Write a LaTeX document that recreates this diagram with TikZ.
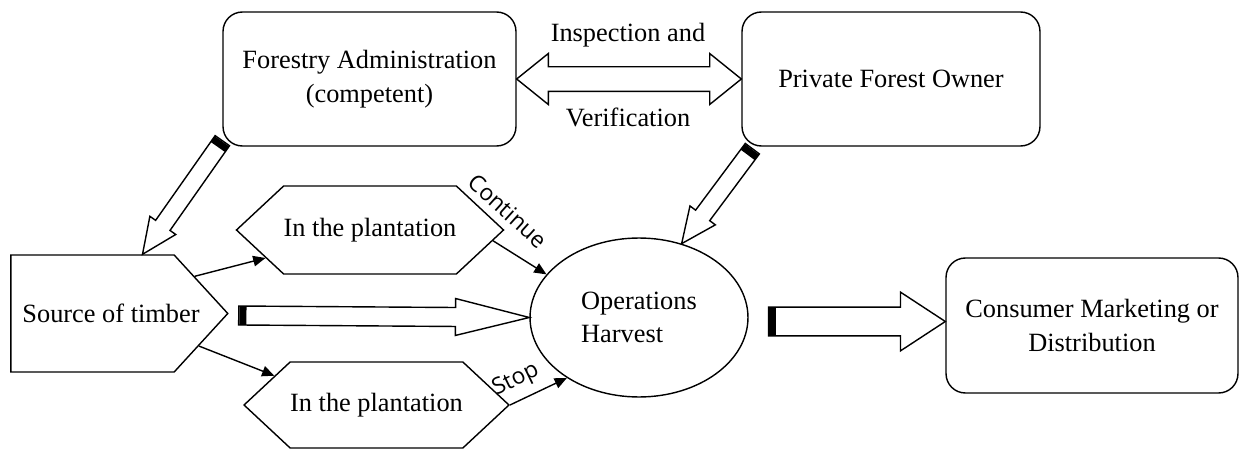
\documentclass[tikz,border=0pt]{standalone}
\usepackage{fontspec}
\setmainfont{Liberation Serif}
\newfontfamily\labelfont{Open Sans}
\usetikzlibrary{shapes.geometric,shapes.symbols,arrows.meta,calc}

\tikzset{
  box/.style={draw, rounded corners=11pt, line width=0.8pt, align=center, inner sep=0pt},
  hexa/.style={draw, shape=signal, signal to=west and east, signal pointer angle=86,
    line width=0.8pt, minimum width=5.08cm, minimum height=1.76cm, inner sep=0pt},
  conn/.style={-{Triangle[length=7pt,width=6pt]}, line width=0.8pt},
  lbl/.style={font=\labelfont\fontsize{13}{15}\selectfont, inner sep=1pt},
  tailmark/.style={fill, inner sep=0pt, minimum width=4pt},
  fat/.style n args={3}{line width=0.8pt, to path={
    let \p1=($(\tikztotarget)-(\tikztostart)$), \n1={atan2(\y1,\x1)}, \n2={veclen(\x1,\y1)} in
    ($(\tikztostart)+(\n1+90:#1)$)
    -- ($(\tikztostart)+(\n1:{\n2-#3})+(\n1+90:#1)$)
    -- ($(\tikztostart)+(\n1:{\n2-#3})+(\n1+90:#2)$)
    -- (\tikztotarget)
    -- ($(\tikztostart)+(\n1:{\n2-#3})+(\n1-90:#2)$)
    -- ($(\tikztostart)+(\n1:{\n2-#3})+(\n1-90:#1)$)
    -- ($(\tikztostart)+(\n1-90:#1)$) -- cycle
    (\tikztostart) node[tailmark, minimum height={2*#1}, rotate=\n1, anchor=west] {}
  }},
  fatboth/.style n args={3}{line width=0.8pt, to path={
    let \p1=($(\tikztotarget)-(\tikztostart)$), \n1={atan2(\y1,\x1)}, \n2={veclen(\x1,\y1)} in
    (\tikztostart)
    -- ($(\tikztostart)+(\n1:#3)+(\n1+90:#2)$)
    -- ($(\tikztostart)+(\n1:#3)+(\n1+90:#1)$)
    -- ($(\tikztostart)+(\n1:{\n2-#3})+(\n1+90:#1)$)
    -- ($(\tikztostart)+(\n1:{\n2-#3})+(\n1+90:#2)$)
    -- (\tikztotarget)
    -- ($(\tikztostart)+(\n1:{\n2-#3})+(\n1-90:#2)$)
    -- ($(\tikztostart)+(\n1:{\n2-#3})+(\n1-90:#1)$)
    -- ($(\tikztostart)+(\n1:#3)+(\n1-90:#1)$)
    -- ($(\tikztostart)+(\n1:#3)+(\n1-90:#2)$)
    -- cycle
  }}
}

\begin{document}
\begin{tikzpicture}[x=0.02cm, y=-0.02cm, font=\fontsize{15}{19}\selectfont]
  \useasboundingbox (0,0) rectangle (1242,450);

  % boxes
  \node[box, minimum width=5.86cm, minimum height=2.68cm] (fa) at (369.5,79) {Forestry Administration\\(competent)};
  \node[box, minimum width=5.96cm, minimum height=2.68cm] (pfo) at (891,79) {Private Forest Owner};
  \node[box, minimum width=5.84cm, minimum height=2.7cm] (cons) at (1092,325.5) {Consumer Marketing or\\Distribution};

  \node[draw, shape=signal, signal to=east, signal pointer angle=95, line width=0.8pt,
    minimum width=4.34cm, minimum height=2.34cm, inner sep=0pt,
    label={[name=srctxt, xshift=0.37cm]center:Source of timber}] (src) at (92.5,313.5) {};
  \node[hexa] (hex1) at (370,230) {In the plantation};
  \node[hexa, minimum width=5.06cm, minimum height=1.72cm] (hex2) at (376.5,405) {In the plantation};
  \node[draw, ellipse, line width=0.8pt, minimum width=4.36cm, minimum height=3.18cm,
    align=left, inner sep=0pt] (ell) at (639,317.5) {Operations\\Harvest};

  % big arrows
  \draw[fatboth={7pt}{14.5pt}{18pt}] (fa.east) to (pfo.west);
  \node (insp) at (628,35) {Inspection and};
  \node (verif) at (628,117) {Verification};
  \draw[fat={5pt}{9pt}{20pt}] ([shift={(0,-6)}]fa.south west) to ([shift={(50,0)}]src.north);
  \draw[fat={5pt}{9pt}{20pt}] ([shift={(11,2)}]pfo.south west) to (ell.60);
  \draw[fat={5.4pt}{10.5pt}{42pt}] ([shift={(10,2)}]src.east) to (ell.west);
  \draw[fat={8.2pt}{16.7pt}{25.5pt}] ([shift={(20,4)}]ell.east) to ([shift={(0,-4)}]cons.west);

  % thin arrows
  \draw[conn] (src.20) -- (hex1.195);
  \draw[conn] (src.-17) -- (hex2.164);
  \draw[conn] (hex1.-5) -- (ell.155);
  \draw[conn] (hex2.east) -- (ell.220);
  \node[lbl, rotate=-42] (cont) at (508,211) {Continue};
  \node[lbl, rotate=26] (stop) at (516,380) {Stop};
\end{tikzpicture}
\end{document}
